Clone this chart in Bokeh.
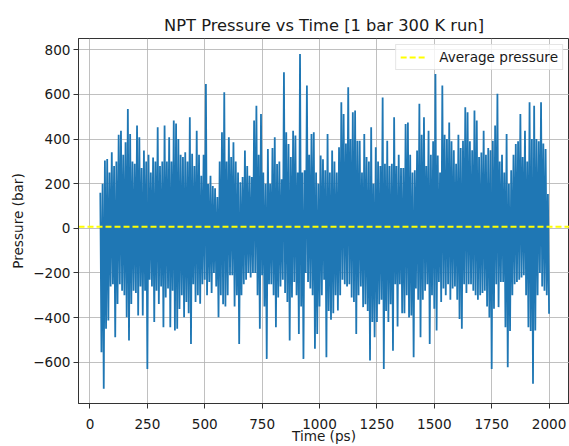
from bokeh.plotting import figure
from bokeh.models import Range1d, FixedTicker
from bokeh.embed import file_html
from bokeh.resources import INLINE

# ---- data (per ~10 ps window: local max then local min, bar) ----
t_start = 45          # ps, first sample shown
window_ps = 10        # ps per window

hi_a = [160, 200, 304, 311, 250, 341, 280, 300, 420, 438, 330, 386, 535, 423, 300, 290, 461,
        408, 270, 349, 300, 330, 250, 318, 300, 453, 280, 300, 461, 300, 408, 300, 483]
lo_a = [-555, -719, -450, -413, -260, -250, -488, -339, -250, -280, -300, -398, -503, -339,
        -280, -290, -391, -260, -391, -280, -630, -230, -260, -420, -280, -339, -260, -443,
        -310, -270, -443, -280, -458]
hi_b = [470, 400, 330, 320, 341, 300, 498, 334, 280, 438, 330, 236, 330, 647, 199, 236, 190,
        180, 140, 300, 431, 610, 300, 408, 320, 386, 300, 250, 207, 230, 349, 280, 236, 230, 483]
lo_b = [-450, -361, -300, -398, -330, -380, -518, -250, -330, -300, -338, -250, -230, -300,
        -240, -290, -200, -260, -398, -300, -340, -350, -300, -210, -210, -350, -300, -518,
        -300, -250, -230, -200, -220, -200, -200]
hi_c = [550, 330, 513, 250, 200, 356, 200, 360, 408, 289, 300, 220, 700, 431, 378, 320, 438,
        416, 250, 782, 250, 260, 640, 330, 423, 431, 250, 200, 326, 310, 260, 423, 250, 349, 300]
lo_c = [-300, -450, -210, -350, -585, -250, -250, -300, -443, -310, -260, -230, -290, -330,
        -503, -310, -240, -300, -473, -350, -585, -200, -240, -270, -300, -540, -473, -350,
        -300, -230, -578, -370, -410, -380, -300]
hi_d = [250, 364, 565, 513, 380, 632, 400, 520, 528, 393, 393, 250, 423, 320, 300, 453, 200,
        364, 300, 280, 587, 290, 393, 280, 290, 498, 280, 330, 270, 270, 468, 475, 330, 250]
lo_d = [-368, -300, -230, -250, -260, -250, -310, -330, -473, -300, -260, -353, -340, -370,
        -592, -420, -488, -420, -340, -320, -630, -370, -420, -340, -548, -250, -440, -250,
        -380, -380, -300, -400, -390, -578]
hi_e = [260, 349, 558, 420, 498, 280, 438, 330, 390, 692, 326, 250, 640, 420, 400, 475, 390,
        350, 290, 420, 360, 393, 543, 520, 390, 350, 528, 483, 320, 340, 438, 330, 360, 350, 393]
lo_e = [-270, -320, -488, -320, -280, -250, -518, -300, -360, -458, -240, -330, -270, -300,
        -250, -320, -270, -260, -320, -406, -450, -250, -290, -250, -250, -280, -300, -320,
        -300, -290, -280, -350, -400, -630, -360]
hi_f = [461, 603, 300, 330, 250, 423, 200, 260, 330, 378, 390, 513, 320, 438, 300, 565, 400,
        550, 401, 390, 565, 380, 356, 154]
lo_f = [-250, -353, -240, -240, -443, -622, -460, -300, -250, -240, -230, -220, -210, -300,
        -443, -460, -697, -458, -300, -200, -260, -280, -300, -383]

pressure_hi = hi_a + hi_b + hi_c + hi_d + hi_e + hi_f
pressure_lo = lo_a + lo_b + lo_c + lo_d + lo_e + lo_f
avg_pressure = 7

x_ticks = [0, 250, 500, 750, 1000, 1250, 1500, 1750, 2000]
y_ticks = [-600, -400, -200, 0, 200, 400, 600, 800]

time, pressure = [], []
for i, (h, l) in enumerate(zip(pressure_hi, pressure_lo)):
    time += [t_start + window_ps * i, t_start + window_ps * i + window_ps / 2]
    pressure += [h, l]

FONT = "DejaVu Sans"
p = figure(width=569, height=446, output_backend="svg", toolbar_location=None,
           x_range=Range1d(-50, 2089), y_range=Range1d(-785, 851),
           min_border_left=78, min_border_right=0, min_border_top=38, min_border_bottom=40,
           title="NPT Pressure vs Time [1 bar 300 K run]")

p.title.text_font = FONT
p.title.text_font_size = "16.3px"
p.title.text_font_style = "normal"
p.title.text_color = "#1a1a1a"
p.title.align = "center"
p.title.standoff = 8

p.line(time, pressure, line_color="#1f77b4", line_width=1.8)
p.line([p.x_range.start, p.x_range.end], [avg_pressure, avg_pressure],
       line_color="#ffff00", line_width=2, line_dash="6 3", legend_label="Average pressure")

p.xaxis.ticker = FixedTicker(ticks=x_ticks)
p.yaxis.ticker = FixedTicker(ticks=y_ticks)
p.yaxis.major_label_overrides = {v: (("\u2212" + str(-v)) if v < 0 else str(v)) for v in y_ticks}
p.xaxis.axis_label = "Time (ps)"
p.yaxis.axis_label = "Pressure (bar)"
for ax in (p.xaxis, p.yaxis):
    ax.major_tick_out = 5
    ax.major_tick_in = 0
    ax.minor_tick_out = 0
    ax.minor_tick_in = 0
    ax.axis_line_color = "#333333"
    ax.major_tick_line_color = "#333333"
    ax.major_label_text_font = FONT
    ax.major_label_text_font_size = "13.6px"
    ax.major_label_text_color = "#1a1a1a"
    ax.major_label_standoff = 3
    ax.axis_label_text_font = FONT
    ax.axis_label_text_font_size = "13.6px"
    ax.axis_label_text_font_style = "normal"
    ax.axis_label_text_color = "#1a1a1a"
    ax.axis_label_standoff = 4
p.xaxis.major_label_standoff = 10
p.xaxis.axis_label_standoff = -4
p.xaxis.major_label_text_line_height = 1.0
p.xaxis.axis_label_text_line_height = 1.0

p.grid.grid_line_color = "#b0b0b0"
p.grid.grid_line_width = 1
p.grid.grid_line_alpha = 0.8
p.outline_line_color = "#333333"
p.outline_line_width = 1

lg = p.legend[0]
lg.location = "top_right"
lg.margin = 6
lg.padding = 4
lg.spacing = 0
lg.glyph_width = 27
lg.glyph_height = 12
lg.label_height = 12
lg.label_standoff = 12
lg.label_text_font = FONT
lg.label_text_font_size = "13.6px"
lg.label_text_color = "#1a1a1a"
lg.border_line_color = "#cccccc"
lg.background_fill_alpha = 0.8

open("out.html", "w").write(file_html(p, INLINE))
